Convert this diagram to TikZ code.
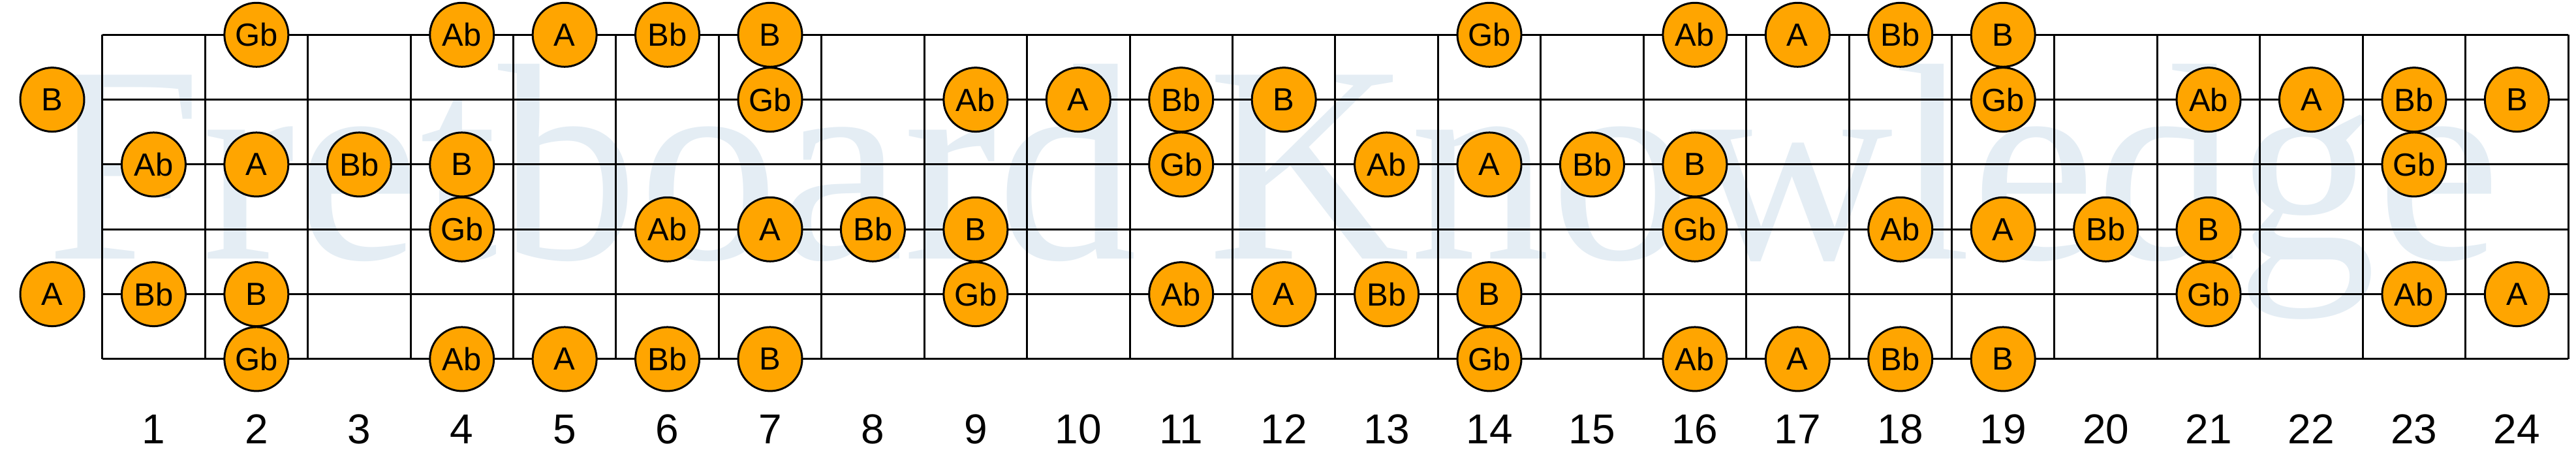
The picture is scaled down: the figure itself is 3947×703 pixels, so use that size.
\documentclass[tikz,border=0pt]{standalone}
\usepackage{fontspec}
\setmainfont{Liberation Sans}
\newfontfamily\wmfont{Liberation Serif}
\definecolor{noteorange}{RGB}{255,165,0}
\definecolor{wmblue}{RGB}{228,237,244}
\begin{document}
\begin{tikzpicture}[x=0.25pt,y=-0.25pt,
  note/.style={circle,draw=black,line width=0.75pt,fill=noteorange,minimum size=24.5pt,inner sep=0pt,font=\fontsize{12.25}{12.25}\selectfont},
  fretnum/.style={font=\fontsize{16}{16}\selectfont,anchor=base,inner sep=0pt},
  gridline/.style={line width=0.75pt,black},
  watermark/.style={anchor=base west,inner sep=0pt,text=wmblue,font=\wmfont\fontsize{107.5}{107.5}\selectfont}]
\useasboundingbox (0,0) rectangle (3947,703);
\node[watermark] (wm) at (70,397) {Fretboard Knowledge};
% strings
\foreach \s in {1,...,6} {
  \pgfmathsetmacro\yy{53.3+99.33*(\s-1)}
  \draw[gridline] (156.7,\yy) -- (3935,\yy);
}
% frets
\foreach \k in {0,...,24} {
  \pgfmathsetmacro\xx{156.7+157.43*\k}
  \draw[gridline] (\xx,53.3) -- (\xx,550);
}
% notes
\foreach \s/\f/\t in {
  1/2/Gb,1/4/Ab,1/5/A,1/6/Bb,1/7/B,1/14/Gb,1/16/Ab,1/17/A,1/18/Bb,1/19/B,
  2/0/B,2/7/Gb,2/9/Ab,2/10/A,2/11/Bb,2/12/B,2/19/Gb,2/21/Ab,2/22/A,2/23/Bb,2/24/B,
  3/1/Ab,3/2/A,3/3/Bb,3/4/B,3/11/Gb,3/13/Ab,3/14/A,3/15/Bb,3/16/B,3/23/Gb,
  4/4/Gb,4/6/Ab,4/7/A,4/8/Bb,4/9/B,4/16/Gb,4/18/Ab,4/19/A,4/20/Bb,4/21/B,
  5/0/A,5/1/Bb,5/2/B,5/9/Gb,5/11/Ab,5/12/A,5/13/Bb,5/14/B,5/21/Gb,5/23/Ab,5/24/A,
  6/2/Gb,6/4/Ab,6/5/A,6/6/Bb,6/7/B,6/14/Gb,6/16/Ab,6/17/A,6/18/Bb,6/19/B} {
  \pgfmathsetmacro\xx{\f==0 ? 80 : 156.7+157.43*(\f-0.5)}
  \pgfmathsetmacro\yy{53.3+99.33*(\s-1)}
  \node[note] (n-\s-\f) at (\xx,\yy) {\t};
}
% fret numbers
\foreach \k in {1,...,24} {
  \pgfmathsetmacro\xx{156.7+157.43*(\k-0.5)}
  \node[fretnum] (fn-\k) at (\xx,680) {\k};
}
\end{tikzpicture}
\end{document}
